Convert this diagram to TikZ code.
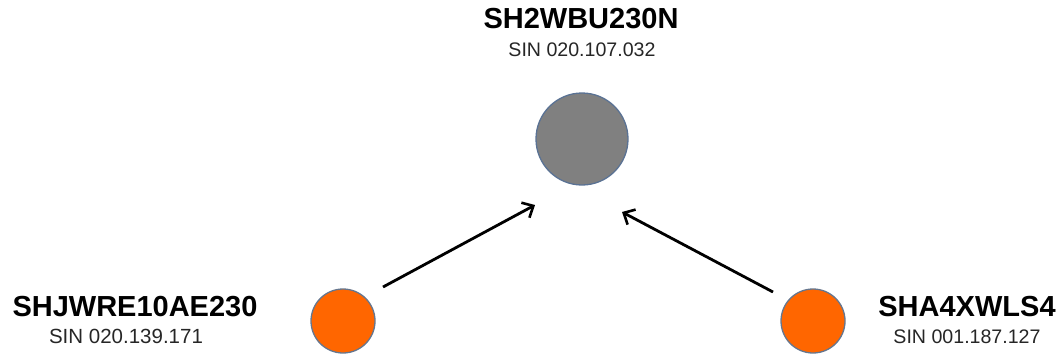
\documentclass[tikz,border=0pt]{standalone}
\usepackage{fontspec}
\setmainfont{Liberation Sans}
\usetikzlibrary{arrows.meta}
\definecolor{nodegray}{HTML}{808080}
\definecolor{nodeorange}{HTML}{FF6600}
\definecolor{rimblue}{HTML}{5A7294}
\definecolor{sintext}{HTML}{262626}
\begin{document}
\begin{tikzpicture}[x=1pt,y=-1pt,
  namelbl/.style={anchor=base,inner sep=0pt,font=\fontsize{29}{33}\selectfont\bfseries,text=black},
  sinlbl/.style={anchor=base,inner sep=0pt,font=\fontsize{19.6}{22}\selectfont,text=sintext},
  hubnode/.style={circle,draw=rimblue,line width=1.3pt,fill=nodegray,minimum size=92pt,inner sep=0pt},
  leafnode/.style={circle,draw=rimblue!70!gray,line width=1.3pt,fill=nodeorange,minimum size=64pt,inner sep=0pt},
  link/.style={draw=black,line width=2.8pt,-{Straight Barb[length=9pt,width=17pt,line width=2.6pt]}}]
\useasboundingbox (0,0) rectangle (1064,356);
% labels
\node[namelbl] (hubname) at (581,28) {SH2WBU230N};
\node[sinlbl] (hubsin) at (582,56) {SIN 020.107.032};
\node[namelbl] (lname) at (135,316) {SHJWRE10AE230};
\node[sinlbl, font=\fontsize{20.5}{22}\selectfont] (lsin) at (126,343) {SIN 020.139.171};
\node[namelbl] (rname) at (967,316) {SHA4XWLS4};
\node[sinlbl] (rsin) at (967,343) {SIN 001.187.127};
% nodes
\node[hubnode] (hub) at (582,139) {};
\node[leafnode] (left) at (343,321) {};
\node[leafnode] (right) at (813,321) {};
% arrow ends
\coordinate (la) at (383,287);
\coordinate (lb) at (535,205);
\coordinate (ra) at (773,292);
\coordinate (rb) at (622,212);
\draw[link] (la) -- (lb);
\draw[link] (ra) -- (rb);
\end{tikzpicture}
\end{document}
